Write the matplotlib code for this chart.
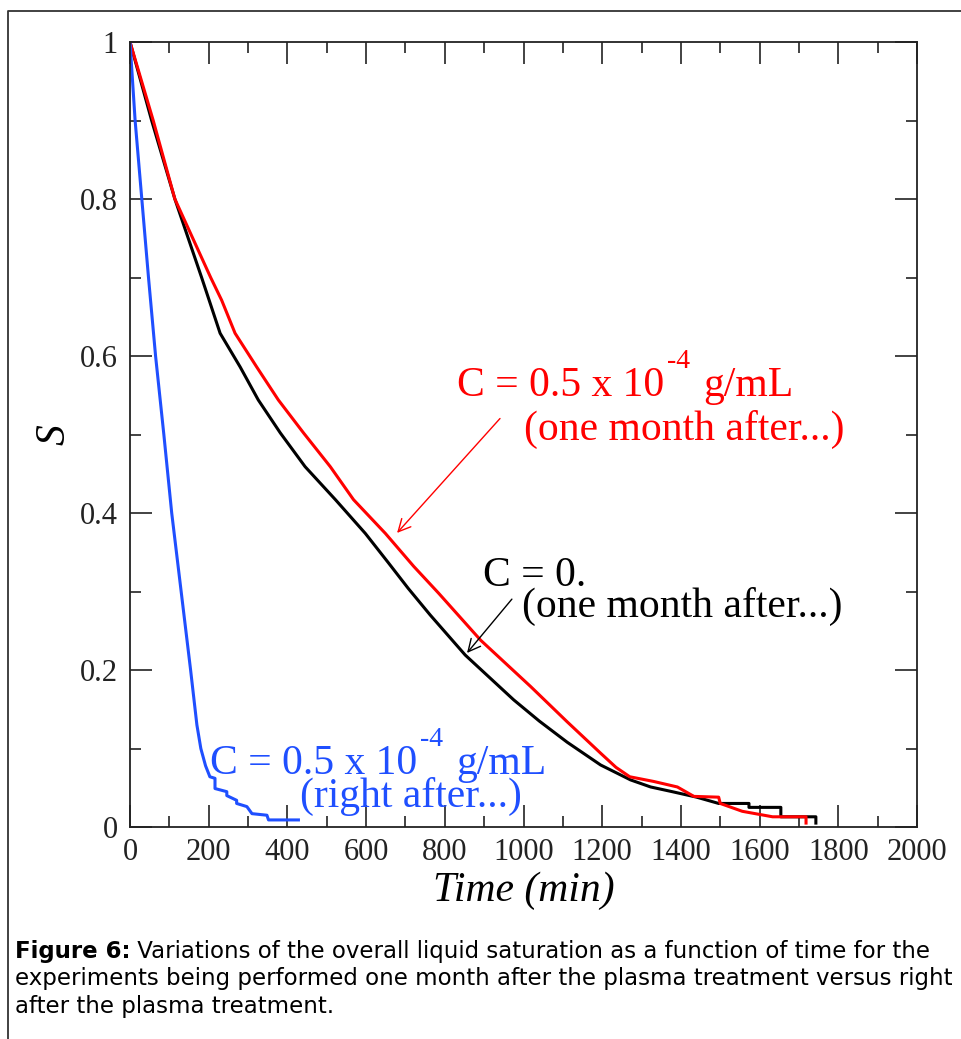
import matplotlib
matplotlib.use('Agg')
import matplotlib.pyplot as plt
from matplotlib.lines import Line2D

plt.rcParams['font.family'] = ['Liberation Serif', 'DejaVu Serif']

# black curve: C = 0, one month after
t_black = [0, 55, 114, 182, 229, 280, 326, 382, 445, 522, 598, 656, 707, 763, 852,
           975, 1040, 1111, 1196, 1272, 1323, 1378, 1440, 1496, 1573, 1573, 1654, 1654,
           1743, 1743]
s_black = [1.0, 0.9, 0.8, 0.7, 0.629, 0.586, 0.544, 0.502, 0.459, 0.417, 0.374, 0.337,
           0.304, 0.27, 0.219, 0.162, 0.135, 0.108, 0.079, 0.06, 0.051, 0.045, 0.038,
           0.03, 0.03, 0.025, 0.025, 0.013, 0.013, 0.005]

# red curve: C = 0.5e-4 g/mL, one month after
t_red = [0, 59, 114, 205, 233, 267, 322, 377, 441, 509, 568, 649, 721, 784, 891, 1018,
         1111, 1196, 1235, 1270, 1331, 1391, 1433, 1496, 1500, 1556, 1633, 1718, 1718]
s_red = [1.0, 0.9, 0.8, 0.7, 0.671, 0.629, 0.586, 0.544, 0.502, 0.459, 0.417, 0.374,
         0.332, 0.298, 0.238, 0.179, 0.134, 0.094, 0.076, 0.064, 0.058, 0.051, 0.039,
         0.038, 0.03, 0.02, 0.013, 0.013, 0.005]

# blue curve: C = 0.5e-4 g/mL, right after
t_blue = [0, 13, 30, 47, 65, 86, 106, 130, 154, 170, 180, 192, 203, 216, 216, 246, 246,
          271, 271, 297, 310, 348, 352, 428]
s_blue = [1.0, 0.9, 0.8, 0.7, 0.6, 0.5, 0.4, 0.3, 0.2, 0.13, 0.1, 0.078, 0.064, 0.062,
          0.049, 0.045, 0.04, 0.034, 0.03, 0.026, 0.017, 0.015, 0.009, 0.009]

xticks = [0, 200, 400, 600, 800, 1000, 1200, 1400, 1600, 1800, 2000]
yticks = [0, 0.2, 0.4, 0.6, 0.8, 1.0]
ylabels = ['0', '0.2', '0.4', '0.6', '0.8', '1']

caption_bold = 'Figure 6:'
caption_lines = [' Variations of the overall liquid saturation as a function of time for the',
                 'experiments being performed one month after the plasma treatment versus right',
                 'after the plasma treatment.']

W, H = 961, 1039
fig = plt.figure(figsize=(W / 100, H / 100), dpi=100)
ax = fig.add_axes([130 / W, 1 - 827 / H, 787 / W, 785 / H])
r = fig.canvas.get_renderer()

ax.plot(t_black, s_black, color='black', lw=2.2)
ax.plot(t_red, s_red, color='#ff0000', lw=2.2)
ax.plot(t_blue, s_blue, color='#1f4fff', lw=2.2)

ax.set_xlim(0, 2000)
ax.set_ylim(0, 1)
ax.set_xticks(xticks)
ax.set_xticklabels([str(v) for v in xticks])
ax.set_yticks(yticks)
ax.set_yticklabels(ylabels)
ax.set_xticks(range(100, 2000, 200), minor=True)
ax.set_yticks([0.1, 0.3, 0.5, 0.7, 0.9], minor=True)
ax.tick_params(which='both', direction='in', top=True, right=True, width=1.2,
               colors='#222222', labelsize=22, labelcolor='#222222')
ax.tick_params(which='major', length=16)
ax.tick_params(which='minor', length=8)
ax.tick_params(axis='x', pad=8)
ax.tick_params(axis='y', pad=9)
for sp in ax.spines.values():
    sp.set_linewidth(1.3)
    sp.set_color('#222222')

ax.set_xlabel('Time (min)', fontsize=30, style='italic', labelpad=3)
ax.set_ylabel('S', fontsize=30, style='italic', labelpad=4)


def conc_label(x, y, color):
    # "C = 0.5 x 10^-4 g/mL" with a small hyphen superscript, as in the original
    t1 = ax.text(x, y, 'C = 0.5 x 10', color=color, fontsize=30)
    bb = t1.get_window_extent(r)
    t2 = ax.annotate('-4', xy=(x, y), xytext=(bb.width * 0.72 + 2, 20),
                     textcoords='offset points', color=color, fontsize=20)
    bb2 = t2.get_window_extent(r)
    ax.annotate('g/mL', xy=(x, y), xytext=((bb2.x1 - bb.x0) * 0.72 + 9, 0),
                textcoords='offset points', color=color, fontsize=30)


# annotations
conc_label(832, 0.549, '#ff0000')
ax.text(1000, 0.493, '(one month after...)', color='#ff0000', fontsize=30)
ax.annotate('', xy=(674, 0.372), xytext=(945, 0.523),
            arrowprops=dict(arrowstyle='->', color='#ff0000', lw=1, mutation_scale=22))
ax.text(896, 0.307, 'C = 0.', color='black', fontsize=30)
ax.text(997, 0.2675, '(one month after...)', color='black', fontsize=30)
ax.annotate('', xy=(852, 0.219), xytext=(975, 0.293),
            arrowprops=dict(arrowstyle='->', color='black', lw=1, mutation_scale=22))
conc_label(204, 0.068, '#1f4fff')
ax.text(433, 0.0255, '(right after...)', color='#1f4fff', fontsize=30)

# outer frame (top and left only)
fig.add_artist(Line2D([8 / W, 8 / W, 1], [0, 1 - 11 / H, 1 - 11 / H], color='#333333',
                      lw=1.3, transform=fig.transFigure))

# caption
cap_font = ['DejaVu Sans']
cap_size = 16.5
ys = [958, 985, 1013]
tb = fig.text(15 / W, 1 - ys[0] / H, caption_bold, fontsize=cap_size, fontweight='bold',
              family=cap_font, va='baseline')
bb = tb.get_window_extent(r)
fig.text(bb.x1 / W, 1 - ys[0] / H, caption_lines[0], fontsize=cap_size, family=cap_font,
         va='baseline')
for line, y in zip(caption_lines[1:], ys[1:]):
    fig.text(15 / W, 1 - y / H, line, fontsize=cap_size, family=cap_font, va='baseline')

fig.savefig('out.png', dpi=100)
